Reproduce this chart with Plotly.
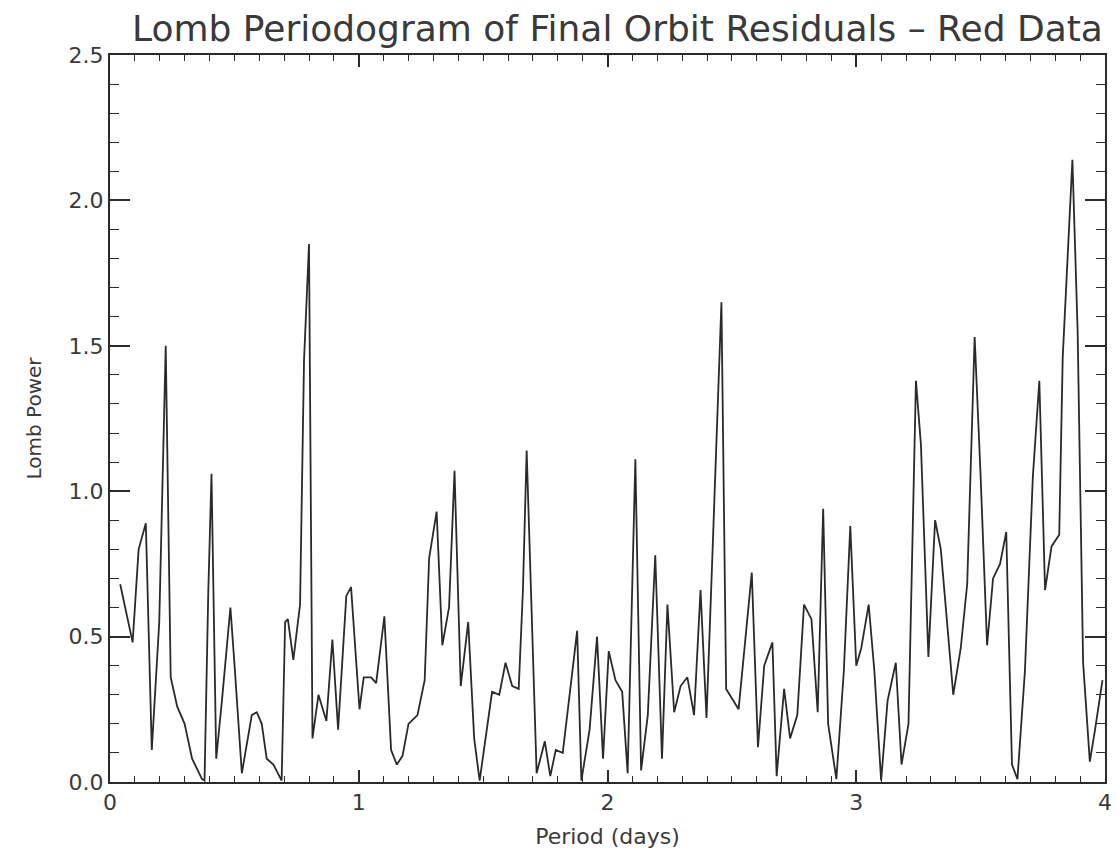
import plotly.graph_objects as go

period_days = [0.041, 0.091, 0.115, 0.144, 0.168, 0.198, 0.224, 0.244, 0.27, 0.30, 0.33, 0.37, 0.38,
               0.395, 0.408, 0.427, 0.45, 0.484, 0.50, 0.53, 0.57, 0.59, 0.61, 0.63, 0.657, 0.69,
               0.704, 0.715, 0.737, 0.764, 0.78, 0.80, 0.814, 0.838, 0.87, 0.894, 0.917, 0.95, 0.969,
               1.003, 1.02, 1.05, 1.07, 1.103, 1.13, 1.153, 1.176, 1.2, 1.236, 1.265, 1.283, 1.313,
               1.336, 1.363, 1.385, 1.41, 1.44, 1.464, 1.486, 1.51, 1.536, 1.565, 1.59, 1.617, 1.643,
               1.66, 1.675, 1.715, 1.748, 1.77, 1.792, 1.82, 1.848, 1.878, 1.895, 1.928, 1.958, 1.982,
               2.005, 2.032, 2.059, 2.081, 2.112, 2.135, 2.162, 2.192, 2.219, 2.241, 2.268, 2.294,
               2.321, 2.348, 2.374, 2.398, 2.423, 2.458, 2.477, 2.527, 2.58, 2.605, 2.63, 2.663, 2.68,
               2.71, 2.734, 2.763, 2.79, 2.82, 2.845, 2.867, 2.887, 2.92, 2.95, 2.976, 3.0, 3.02, 3.05,
               3.073, 3.1, 3.126, 3.159, 3.182, 3.21, 3.24, 3.26, 3.29, 3.317, 3.34, 3.39, 3.42, 3.446,
               3.476, 3.5, 3.526, 3.55, 3.578, 3.603, 3.626, 3.648, 3.678, 3.71, 3.736, 3.759, 3.785,
               3.816, 3.83, 3.869, 3.89, 3.912, 3.939, 3.96, 3.99]
lomb_power = [0.68, 0.48, 0.80, 0.89, 0.11, 0.55, 1.50, 0.36, 0.26, 0.20, 0.08, 0.01, 0.005,
              0.65, 1.06, 0.08, 0.28, 0.60, 0.41, 0.03, 0.23, 0.24, 0.20, 0.08, 0.06, 0.005,
              0.55, 0.56, 0.42, 0.61, 1.45, 1.85, 0.15, 0.30, 0.21, 0.49, 0.18, 0.64, 0.67,
              0.25, 0.36, 0.36, 0.34, 0.57, 0.11, 0.06, 0.09, 0.20, 0.23, 0.35, 0.77, 0.93,
              0.47, 0.60, 1.07, 0.33, 0.55, 0.15, 0.005, 0.16, 0.31, 0.30, 0.41, 0.33, 0.32,
              0.66, 1.14, 0.03, 0.14, 0.02, 0.11, 0.10, 0.30, 0.52, 0.005, 0.18, 0.50, 0.08,
              0.45, 0.35, 0.31, 0.03, 1.11, 0.04, 0.23, 0.78, 0.08, 0.61, 0.24, 0.33,
              0.36, 0.23, 0.66, 0.22, 0.81, 1.65, 0.32, 0.25, 0.72, 0.12, 0.40, 0.48, 0.02,
              0.32, 0.15, 0.23, 0.61, 0.56, 0.24, 0.94, 0.20, 0.01, 0.38, 0.88, 0.40, 0.46, 0.61,
              0.38, 0.005, 0.28, 0.41, 0.06, 0.20, 1.38, 1.16, 0.43, 0.90, 0.80, 0.30, 0.46, 0.68,
              1.53, 1.05, 0.47, 0.70, 0.75, 0.86, 0.06, 0.01, 0.38, 1.05, 1.38, 0.66, 0.81,
              0.85, 1.46, 2.14, 1.55, 0.41, 0.07, 0.18, 0.35]

x_ticks = [0, 1, 2, 3, 4]
y_ticks = [0.0, 0.5, 1.0, 1.5, 2.0, 2.5]
title_text = "Lomb Periodogram of Final Orbit Residuals \u2013 Red Data"

ink = "#2a2a2a"
text_ink = "#3a3a3a"
font_family = "DejaVu Sans"

fig = go.Figure()
fig.add_trace(go.Scatter(x=period_days, y=lomb_power, mode="lines",
                         line=dict(color=ink, width=1.8), showlegend=False))
# invisible trace that activates the top tick axis
fig.add_trace(go.Scatter(x=[1], y=[1], xaxis="x2", yaxis="y",
                         mode="markers", marker=dict(opacity=0), showlegend=False, hoverinfo="skip"))

fig.update_layout(
    width=1117, height=864,
    margin=dict(l=110, r=5, t=55, b=82),
    paper_bgcolor="white", plot_bgcolor="white",
    font=dict(family=font_family, color=text_ink, size=22),
    xaxis=dict(range=[0, 4], tickvals=x_ticks, ticktext=[str(v) for v in x_ticks],
               ticks="inside", ticklen=12, tickwidth=1.5, tickcolor=ink,
               minor=dict(ticks="inside", ticklen=6, tickwidth=1.2, tickcolor=ink, dtick=0.1),
               showgrid=False, zeroline=False, tickfont=dict(size=22),
               showline=True, linecolor=ink, linewidth=2, mirror=True,
               title=dict(text="Period (days)", font=dict(size=22), standoff=14)),
    yaxis=dict(range=[0, 2.5], tickvals=y_ticks, ticktext=[f"{v:.1f}" for v in y_ticks],
               ticks="inside", ticklen=20, tickwidth=1.5, tickcolor=ink,
               minor=dict(ticks="inside", ticklen=9, tickwidth=1.2, tickcolor=ink, dtick=0.1),
               showgrid=False, zeroline=False, tickfont=dict(size=22),
               showline=True, linecolor=ink, linewidth=2, mirror="ticks",
               title=dict(text="Lomb Power", font=dict(size=20), standoff=22)),
    xaxis2=dict(range=[0, 4], overlaying="x", side="top", anchor="y", tickvals=x_ticks,
                showticklabels=False,
                ticks="inside", ticklen=12, tickwidth=1.5, tickcolor=ink,
                minor=dict(ticks="inside", ticklen=6, tickwidth=1.2, tickcolor=ink, dtick=0.1),
                showgrid=False, zeroline=False),
    annotations=[dict(text=title_text, xref="paper", yref="paper", x=1.0, y=1.006,
                      xanchor="right", yanchor="bottom", showarrow=False,
                      font=dict(size=36, family=font_family, color=text_ink))],
)

fig.write_html("out.html")
